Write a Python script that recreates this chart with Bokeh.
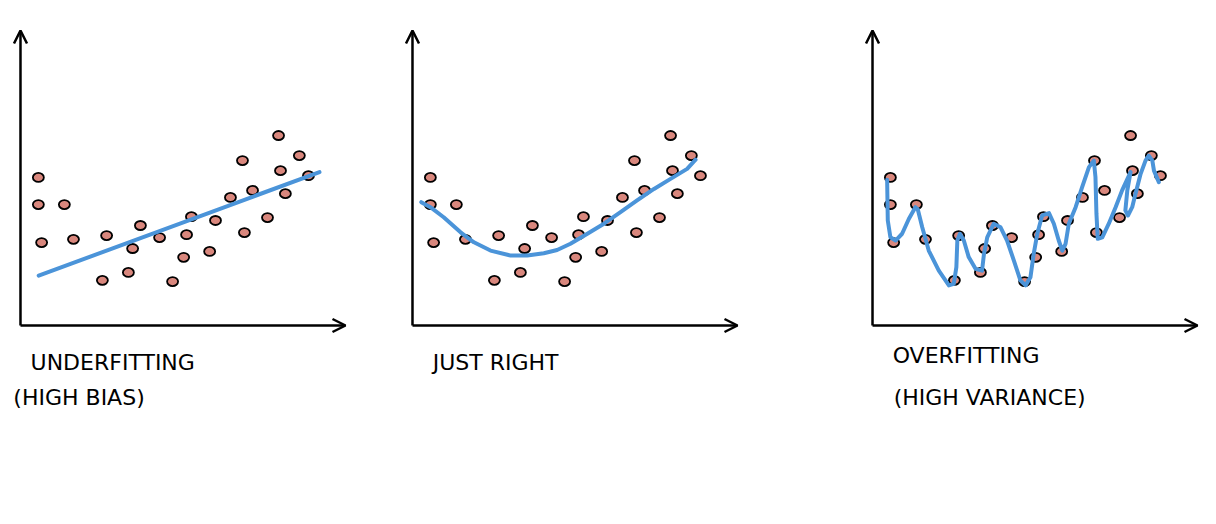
from bokeh.plotting import figure
from bokeh.layouts import row
from bokeh.models import Arrow, OpenHead, Label, Range1d
from bokeh.embed import file_html
from bokeh.resources import INLINE

# shared noisy sample (same points in every panel)
pts_x = [0.55, 0.55, 1.35, 0.65, 1.63, 2.65, 2.52, 3.45, 3.32, 3.69, 4.28, 4.68, 5.02, 5.11,
         5.26, 5.82, 6.00, 6.46, 6.89, 6.83, 7.14, 7.60, 7.94, 8.00, 8.15, 8.58, 8.86]
pts_y = [5.02, 4.10, 4.10, 2.81, 2.92, 3.05, 1.53, 2.61, 1.80, 3.39, 2.98, 1.49, 2.31, 3.08,
         3.69, 2.51, 3.56, 4.34, 3.15, 5.59, 4.58, 3.66, 6.44, 5.25, 4.47, 5.76, 5.08]

# underfitting: straight line
under_x = [0.56, 9.20]
under_y = [1.69, 5.20]

# just right: smooth curve
right_x = [0.27, 0.55, 0.96, 1.48, 1.89, 2.40, 3.02, 3.53, 4.04, 4.45, 4.86, 5.38, 5.89,
           6.40, 6.91, 7.43, 7.94, 8.45, 8.71]
right_y = [4.18, 4.01, 3.67, 3.16, 2.82, 2.54, 2.37, 2.37, 2.45, 2.56, 2.77, 3.11, 3.45,
           3.84, 4.24, 4.63, 4.97, 5.31, 5.62]

# overfitting: wiggly curve through the points
over_x = [0.45, 0.47, 0.55, 0.71, 0.91, 1.12, 1.32, 1.39, 1.53, 1.73, 2.04, 2.35, 2.50, 2.58,
          2.61, 2.69, 2.81, 2.96, 3.17, 3.37, 3.43, 3.53, 3.73, 3.94, 4.14, 4.35, 4.55, 4.71,
          4.86, 4.96, 5.07, 5.22, 5.43, 5.58, 5.73, 5.84, 5.94, 6.04, 6.25, 6.45, 6.66, 6.81,
          6.86, 6.89, 6.93, 7.07, 7.27, 7.48, 7.68, 7.94, 7.84, 7.78, 7.86, 7.99, 8.09, 8.25,
          8.40, 8.50, 8.61, 8.66, 8.81]
over_y = [4.94, 3.56, 2.99, 2.88, 3.11, 3.62, 4.01, 3.95, 3.33, 2.54, 1.86, 1.36, 1.41, 1.98,
          2.88, 3.11, 2.88, 2.32, 1.92, 1.86, 2.43, 2.99, 3.45, 3.33, 2.88, 2.20, 1.53, 1.36,
          1.64, 2.43, 3.11, 3.73, 3.81, 3.45, 2.88, 2.54, 2.77, 3.45, 4.01, 4.69, 5.37, 5.59,
          5.03, 3.79, 2.94, 2.99, 3.45, 4.01, 4.58, 5.20, 4.58, 3.90, 3.73, 4.01, 4.46, 5.14,
          5.59, 5.76, 5.59, 5.25, 4.86]

titles = [["UNDERFITTING", "(HIGH BIAS)"], ["JUST RIGHT"], ["OVERFITTING", "(HIGH VARIANCE)"]]
title_x = [[0.31, -0.22], [0.62], [0.62, 0.65]]
title_y = [[-1.25, -2.44], [-1.25], [-1.02, -2.44]]

fits = [(under_x, under_y), (right_x, right_y), (over_x, over_y)]
widths = [392, 452, 356]
xranges = [(-0.615, 11.446), (-0.615, 13.292), (-0.862, 10.092)]
H = 510
YR = (-6.271, 11.017)

BLUE = "#4b94d9"
DOT = "#d9877d"

figs = []
for i in range(3):
    p = figure(width=widths[i], height=H, output_backend="svg", toolbar_location=None,
               x_range=Range1d(*xranges[i]), y_range=Range1d(*YR),
               min_border=0, min_border_left=0, min_border_right=0,
               min_border_top=0, min_border_bottom=0)
    p.axis.visible = False
    p.grid.visible = False
    p.outline_line_color = None
    p.background_fill_color = "white"
    p.border_fill_color = "white"

    # hand-drawn style axes with open arrow heads
    for (xs, ys, xe, ye) in [(0, 0, 0, 10), (0, 0, 10, 0)]:
        p.add_layout(Arrow(end=OpenHead(size=13, line_width=2.5, line_color="black"),
                           x_start=xs, y_start=ys, x_end=xe, y_end=ye,
                           line_width=2.5, line_color="black"))

    p.ellipse(x=pts_x, y=pts_y, width=11, height=9, width_units="screen", height_units="screen",
              fill_color=DOT, line_color="black", line_width=1.8)

    fx, fy = fits[i]
    p.line(fx, fy, line_color=BLUE, line_width=4, line_join="round", line_cap="round")

    for t, tx, ty in zip(titles[i], title_x[i], title_y[i]):
        p.add_layout(Label(x=tx, y=ty, text=t, text_font="DejaVu Sans", text_font_size="22px",
                           text_baseline="middle", text_align="left", text_color="black"))
    figs.append(p)

layout = row(*figs)
open("out.html", "w").write(file_html(layout, INLINE))
